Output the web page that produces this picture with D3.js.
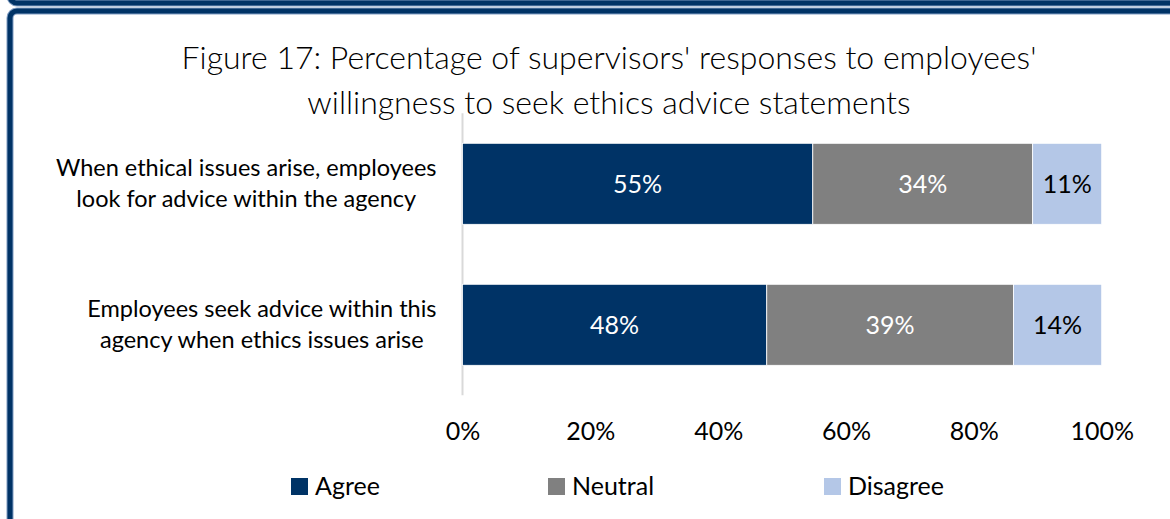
<!DOCTYPE html>
<html>
<head>
<meta charset="utf-8">
<script src="https://cdn.jsdelivr.net/npm/d3@7"></script>
<style>
  html, body { margin: 0; padding: 0; background: #fff; }
  svg { display: block; font-family: Lato, "Open Sans", sans-serif; }
</style>
</head>
<body>
<svg id="chart" width="1170" height="519"></svg>
<script>
// Survey statements (each split into its display lines)
const categories = [
  ["When ethical issues arise, employees", "look for advice within the agency"],
  ["Employees seek advice within this", "agency when ethics issues arise"]
];
const seriesNames = ["Agree", "Neutral", "Disagree"];
const agree    = [0.548, 0.476];
const neutral  = [0.344, 0.386];
const disagree = [0.108, 0.138];
const tickValues = [0, 0.2, 0.4, 0.6, 0.8, 1.0];
const titleLines = [
  "Figure 17: Percentage of supervisors' responses to employees'",
  "willingness to seek ethics advice statements"
];

const colors = ["#003366", "#808080", "#b4c7e7"];
const labelColors = ["#ffffff", "#ffffff", "#000000"];

const svg = d3.select("#chart");

// Page frame: bottom edge of the box above, and the box holding the chart
function frame(x, y, w, h) {
  svg.append("rect").attr("x", x).attr("y", y).attr("width", w).attr("height", h)
    .attr("rx", 7).attr("fill", "none").attr("stroke", "#7f9cc2").attr("stroke-width", 7);
  svg.append("rect").attr("x", x).attr("y", y).attr("width", w).attr("height", h)
    .attr("rx", 7).attr("fill", "none").attr("stroke", "#003366").attr("stroke-width", 5);
}
frame(10, -300, 1400, 303);
frame(10, 11, 1400, 800);

// Table rows for stacking
const rows = categories.map((c, i) => ({
  key: i, Agree: agree[i], Neutral: neutral[i], Disagree: disagree[i]
}));
const stacked = d3.stack().keys(seriesNames)(rows);

const x = d3.scaleLinear().domain([0, 1]).range([462.5, 1101.7]);
const y = d3.scaleBand().domain(d3.range(categories.length))
  .range([113.3, 395.3]).paddingInner(0.4255).paddingOuter(0.2128);

// Title
svg.append("g").selectAll("text").data(titleLines).join("text")
  .attr("x", 609).attr("y", (d, i) => 69 + i * 45)
  .attr("text-anchor", "middle")
  .attr("font-size", 32).attr("font-weight", 300).attr("fill", "#000")
  .text(d => d);

// Vertical category axis line
svg.append("line")
  .attr("x1", x(0)).attr("x2", x(0))
  .attr("y1", y.range()[0]).attr("y2", y.range()[1])
  .attr("stroke", "#d9d9d9").attr("stroke-width", 2);

// Bars
const layers = svg.append("g").selectAll("g").data(stacked).join("g")
  .attr("fill", (d, i) => colors[i]);
layers.selectAll("rect").data(d => d).join("rect")
  .attr("x", d => x(d[0]))
  .attr("y", (d, i) => y(i))
  .attr("width", d => x(d[1]) - x(d[0]))
  .attr("height", y.bandwidth())
  .attr("stroke", "#ffffff").attr("stroke-width", 0.8);

// Value labels
const fmt = d3.format(".0%");
stacked.forEach((layer, li) => {
  svg.append("g").selectAll("text").data(layer).join("text")
    .attr("x", d => (x(d[0]) + x(d[1])) / 2)
    .attr("y", (d, i) => y(i) + y.bandwidth() / 2 + 9.5)
    .attr("text-anchor", "middle")
    .attr("font-size", 25).attr("fill", labelColors[li])
    .text(d => fmt(d[1] - d[0]));
});

// Category labels: lines centred within a block that ends near the axis
const catG = svg.append("g");
categories.forEach((lines, i) => {
  const g = catG.append("g");
  const t = g.selectAll("text").data(lines).join("text")
    .attr("font-size", 23.5).attr("fill", "#000")
    .attr("text-anchor", "middle")
    .attr("y", (d, j) => y(i) + y.bandwidth() / 2 + (j - 0.5) * 31 + 7.5)
    .text(d => d);
  const widths = t.nodes().map(n => n.getComputedTextLength());
  const maxW = d3.max(widths);
  const right = x(0) - 26;
  t.attr("x", right - maxW / 2);
});

// X axis tick labels
const xAxis = d3.axisBottom(x).tickValues(tickValues).tickFormat(d3.format(".0%"))
  .tickSize(0).tickPadding(0);
const axG = svg.append("g").attr("transform", "translate(0,422)").call(xAxis);
axG.select(".domain").remove();
axG.selectAll("text").attr("font-size", 25).attr("fill", "#000")
  .attr("font-family", "Lato, 'Open Sans', sans-serif");

// Legend
const legendX = [291, 548, 824];
const leg = svg.append("g").selectAll("g").data(seriesNames).join("g")
  .attr("transform", (d, i) => `translate(${legendX[i]},478)`);
leg.append("rect").attr("width", 17).attr("height", 17).attr("fill", (d, i) => colors[i]);
leg.append("text").attr("x", 24).attr("y", 17)
  .attr("font-size", 25).attr("fill", "#000").text(d => d);
</script>
</body>
</html>
